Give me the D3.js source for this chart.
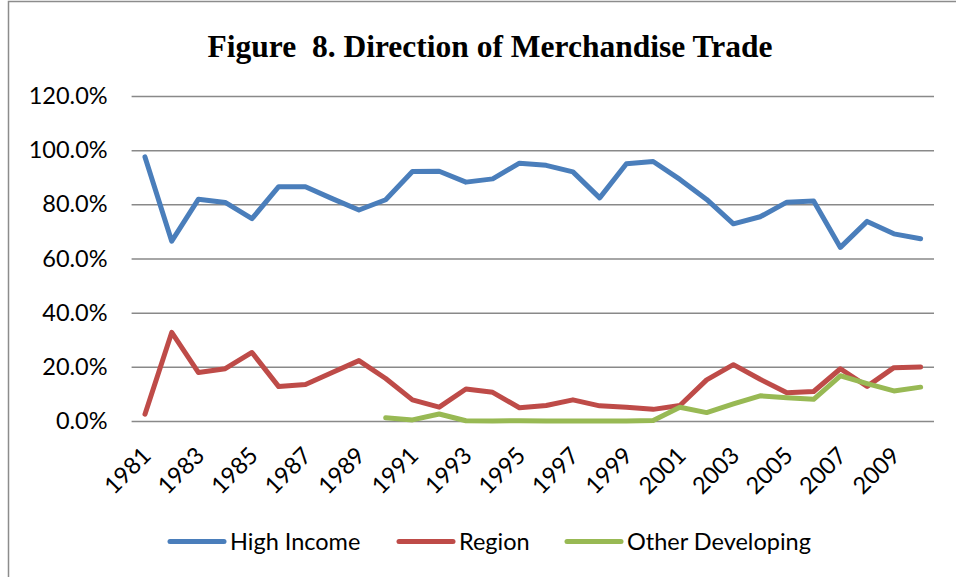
<!DOCTYPE html>
<html>
<head>
<meta charset="utf-8">
<script src="https://cdn.jsdelivr.net/npm/d3@7"></script>
<style>
    body { margin: 0; background: #fff; }
    svg { display: block; }
</style>
</head>
<body>
<svg id="chart" width="956" height="577"></svg>
<script>
// Data (share of merchandise trade)
const years = d3.range(1981, 2011);
const tickYears = years.filter(y => y % 2 === 1);
const yTicks = [0, 0.2, 0.4, 0.6, 0.8, 1.0, 1.2];

const highIncome = [0.975, 0.664, 0.819, 0.807, 0.747, 0.865, 0.865, 0.821, 0.779, 0.817,
    0.921, 0.922, 0.882, 0.894, 0.952, 0.944, 0.920, 0.824, 0.950, 0.958,
    0.892, 0.818, 0.728, 0.754, 0.808, 0.812, 0.641, 0.737, 0.691, 0.673];
const region = [0.025, 0.327, 0.179, 0.193, 0.253, 0.127, 0.135, 0.179, 0.223, 0.157,
    0.078, 0.051, 0.118, 0.106, 0.049, 0.057, 0.078, 0.056, 0.051, 0.043,
    0.057, 0.152, 0.208, 0.154, 0.104, 0.109, 0.193, 0.128, 0.197, 0.199];
const otherDeveloping = [null, null, null, null, null, null, null, null, null, 0.012,
    0.004, 0.026, 0.001, 0.0, 0.001, 0.0, 0.0, 0.0, 0.0, 0.002,
    0.051, 0.031, 0.063, 0.093, 0.086, 0.080, 0.167, 0.138, 0.111, 0.125];

const seriesNames = ['High Income', 'Region', 'Other Developing'];
const seriesColors = ['#4a7ebb', '#be4b48', '#98b954'];
const seriesValues = [highIncome, region, otherDeveloping];

const svg = d3.select('#chart');
const margin = {top: 96, right: 22, bottom: 156, left: 131.6};
const width = +svg.attr('width') - margin.left - margin.right;
const height = +svg.attr('height') - margin.top - margin.bottom;
const labelFont = 'Lato, "Open Sans", sans-serif';

// outer chart border
svg.append('rect')
    .attr('x', 8.5).attr('y', 1.5)
    .attr('width', 1000).attr('height', 1000)
    .attr('fill', 'none')
    .attr('stroke', '#8c8c8c')
    .attr('stroke-width', 1.5);

svg.append('text')
    .attr('x', 490)
    .attr('y', 57)
    .attr('text-anchor', 'middle')
    .attr('font-family', '"Liberation Serif", "Times New Roman", serif')
    .attr('font-weight', 'bold')
    .attr('font-size', 31.5)
    .attr('fill', '#000')
    .style('white-space', 'pre')
    .text('Figure  8. Direction of Merchandise Trade');

const g = svg.append('g')
    .attr('transform', `translate(${margin.left},${margin.top})`);

const x = d3.scalePoint()
    .domain(years)
    .range([0, width])
    .padding(0.5);

const y = d3.scaleLinear()
    .domain([0, 1.2])
    .range([height, 0]);

// gridlines + y labels
const yAxis = d3.axisLeft(y)
    .tickValues(yTicks)
    .tickSize(-width)
    .tickPadding(24)
    .tickFormat(d3.format('.1%'));

g.append('g')
    .attr('class', 'y-axis')
    .call(yAxis)
    .call(ax => ax.select('.domain').remove())
    .call(ax => ax.selectAll('line')
        .attr('stroke', '#898989')
        .attr('stroke-width', 1.5))
    .call(ax => ax.selectAll('text')
        .attr('font-family', labelFont)
        .attr('font-size', 23.5)
        .attr('fill', '#000'));

// x labels, every other year, rotated
const xAxis = d3.axisBottom(x)
    .tickValues(tickYears)
    .tickSize(0)
    .tickFormat(d3.format('d'));

g.append('g')
    .attr('class', 'x-axis')
    .attr('transform', `translate(0,${height})`)
    .call(xAxis)
    .call(ax => ax.select('.domain').remove())
    .call(ax => ax.selectAll('text')
        .attr('font-family', labelFont)
        .attr('font-size', 23.5)
        .attr('fill', '#000')
        .attr('text-anchor', 'end')
        .attr('y', 0)
        .attr('dy', 0)
        .attr('transform', 'translate(7,36) rotate(-45)'));

const line = d3.line()
    .defined(d => d != null)
    .x((d, i) => x(years[i]))
    .y(d => y(d));

seriesValues.forEach((vals, k) => {
    g.append('path')
        .datum(vals)
        .attr('fill', 'none')
        .attr('stroke', seriesColors[k])
        .attr('stroke-width', 5)
        .attr('stroke-linejoin', 'round')
        .attr('stroke-linecap', 'round')
        .attr('d', line);
});

// legend
const legendX = [170, 399, 567];
const legend = svg.append('g').attr('class', 'legend');
seriesNames.forEach((name, k) => {
    const item = legend.append('g')
        .attr('transform', `translate(${legendX[k]},541.5)`);
    item.append('line')
        .attr('x1', 0).attr('x2', 54)
        .attr('stroke', seriesColors[k])
        .attr('stroke-width', 5)
        .attr('stroke-linecap', 'round');
    item.append('text')
        .attr('x', 60)
        .attr('dy', '0.35em')
        .attr('font-family', labelFont)
        .attr('font-size', 23.5)
        .attr('fill', '#000')
        .text(name);
});
</script>
</body>
</html>
